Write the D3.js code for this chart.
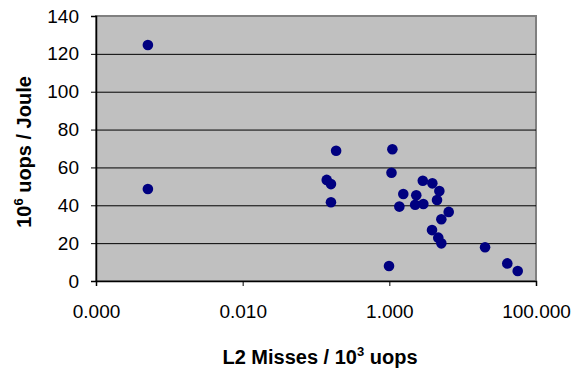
<!DOCTYPE html>
<html>
<head>
<meta charset="utf-8">
<script src="https://cdn.jsdelivr.net/npm/d3@7"></script>
<style>
  body { margin: 0; background: #fff; }
  text { font-family: Arial, "Liberation Sans", sans-serif; }
</style>
</head>
<body>
<div id="chart"></div>
<script>
// L2 misses per 10^3 uops (x) vs 10^6 uops per Joule (y)
const missesPerKuop = [0.00051, 0.00051, 0.188, 0.14, 0.16, 0.16, 1.10, 1.07, 0.99, 1.55, 1.37, 2.33, 2.25, 2.91, 2.86, 3.86, 4.81, 4.47, 6.45, 5.12, 3.82, 4.65, 5.12, 20.2, 40.6, 56.3];
const uopsPerJoule  = [124.7, 48.6, 68.8, 53.4, 51.2, 41.6, 69.6, 57.2, 7.9, 46.0, 39.3, 45.3, 40.3, 40.7, 53.0, 51.6, 47.5, 42.8, 36.5, 32.6, 26.9, 22.9, 19.9, 17.8, 9.3, 5.3];
const xTicks = [0.0001, 0.01, 1, 100];
const yTicks = [0, 20, 40, 60, 80, 100, 120, 140];

const width = 574, height = 371;
const margin = {top: 16, right: 38, bottom: 90, left: 96};

const svg = d3.select("#chart").append("svg")
  .attr("width", width)
  .attr("height", height);

const x = d3.scaleLog().domain([0.0001, 100]).range([margin.left, width - margin.right]);
const y = d3.scaleLinear().domain([0, 140]).range([height - margin.bottom, margin.top]);

// plot area
svg.append("rect")
  .attr("x", x.range()[0]).attr("y", y.range()[1])
  .attr("width", x.range()[1] - x.range()[0])
  .attr("height", y.range()[0] - y.range()[1])
  .attr("fill", "#c0c0c0")
  .attr("stroke", "#808080")
  .attr("stroke-width", 2);

// gridlines
svg.append("g")
  .selectAll("line")
  .data(yTicks.filter(d => d > 0 && d < 140))
  .join("line")
  .attr("x1", x.range()[0]).attr("x2", x.range()[1])
  .attr("y1", d => y(d) + 0.5).attr("y2", d => y(d) + 0.5)
  .attr("stroke", "#000")
  .attr("stroke-width", 1);

// axes
const yAxis = svg.append("g")
  .attr("transform", `translate(${margin.left},0)`)
  .call(d3.axisLeft(y).tickValues(yTicks).tickSize(5).tickPadding(12));
const xAxis = svg.append("g")
  .attr("transform", `translate(0,${height - margin.bottom})`)
  .call(d3.axisBottom(x).tickValues(xTicks).tickFormat(d3.format(".3f")).tickSize(5).tickPadding(19));

[yAxis, xAxis].forEach(g => {
  g.select(".domain").attr("stroke", "#000").attr("stroke-width", 1.5);
  g.selectAll(".tick line").attr("stroke", "#000");
  g.selectAll(".tick text").attr("font-size", 19).attr("fill", "#000")
    .style("font-family", "Arial, 'Liberation Sans', sans-serif");
});

// points
svg.append("g")
  .selectAll("circle")
  .data(missesPerKuop.map((v, i) => [v, uopsPerJoule[i]]))
  .join("circle")
  .attr("cx", d => x(d[0]))
  .attr("cy", d => y(d[1]))
  .attr("r", 5.3)
  .attr("fill", "#000080");

// x title
const xt = svg.append("text")
  .attr("x", (x.range()[0] + x.range()[1]) / 2 + 4)
  .attr("y", 364)
  .attr("text-anchor", "middle")
  .attr("font-size", 20)
  .attr("font-weight", "bold");
xt.append("tspan").text("L2 Misses / 10");
xt.append("tspan").attr("dy", -8).attr("font-size", 13).text("3");
xt.append("tspan").attr("dy", 8).text(" uops");

// y title
const yt = svg.append("text")
  .attr("transform", `translate(31,152) rotate(-90)`)
  .attr("text-anchor", "middle")
  .attr("font-size", 20)
  .attr("font-weight", "bold");
yt.append("tspan").text("10");
yt.append("tspan").attr("dy", -8).attr("font-size", 13).text("6");
yt.append("tspan").attr("dy", 8).text(" uops / Joule");
</script>
</body>
</html>
